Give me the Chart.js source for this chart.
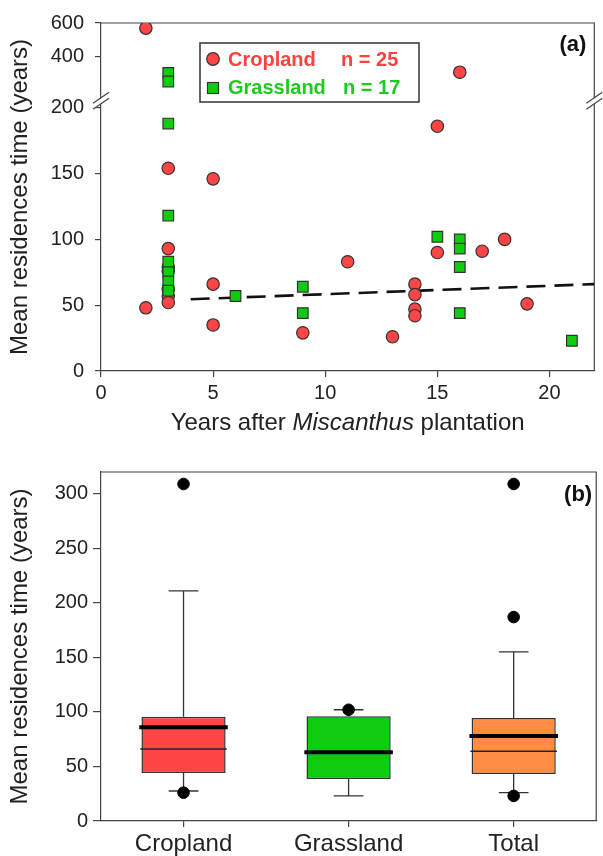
<!DOCTYPE html>
<html>
<head>
<meta charset="utf-8">
<script src="https://cdn.jsdelivr.net/npm/chart.js@4.4.0/dist/chart.umd.min.js"></script>
<style>
  html, body { margin: 0; padding: 0; background: #fff; }
  #wrap { position: relative; width: 603px; height: 856px; overflow: hidden; }
  canvas { position: absolute; left: 0; }
  #cA { top: 0; }
  #cB { top: 440px; }
</style>
</head>
<body>
<div id="wrap">
  <canvas id="cA" width="603" height="440"></canvas>
  <canvas id="cB" width="603" height="416"></canvas>
</div>
<script>
// --- panel (a): MRT against years after plantation ---
const cropYears  = [2, 2, 3, 3, 3, 3, 3, 3, 3, 5, 5, 5, 9, 11, 13, 14, 14, 14, 14, 15, 15, 16, 17, 18, 19];
const cropMrt    = [570, 48, 154, 93, 79, 76, 62, 57, 52, 146, 66, 35, 29, 83, 26, 66, 58, 47, 42, 186, 90, 310, 91, 100, 51];
const grassYears = [3, 3, 3, 3, 3, 3, 3, 3, 6, 9, 9, 15, 16, 16, 16, 16, 21];
const grassMrt   = [306, 255, 188, 118, 83, 75, 68, 61, 57, 64, 44, 102, 100, 93, 79, 44, 23];
const trendYears = [4, 22];
const trendMrt   = [54.5, 66];
const xTicks     = [0, 5, 10, 15, 20];
const yLowTicks  = [0, 50, 100, 150, 200];
const yHighTicks = [400, 600];

// --- panel (b): box plots ---
const groups      = ["Cropland", "Grassland", "Total"];
const boxQ1       = [44, 38.5, 43];
const boxQ3       = [95.5, 96, 94.5];
const boxMedian   = [66, 63, 64];
const boxMean     = [86, 63, 78];
const whiskerLow  = [27.5, 23, 26];
const whiskerHigh = [211, 102, 155];
const outlierGroup = ["Cropland", "Cropland", "Grassland", "Total", "Total", "Total"];
const outlierMrt   = [309, 26, 102, 309, 187, 23];
const boxTicks     = [0, 50, 100, 150, 200, 250, 300];

const FONT = '"Liberation Sans", Arial, Helvetica, sans-serif';
const RED = "#FF4545", GREEN = "#10CC10", ORANGE = "#FF8C40";
Chart.defaults.font.family = FONT;
Chart.defaults.color = "#222";

const lowMax = 205, highMin = 139;   // axis break between the two stacked scales

function split(xs, ys, upper) {
  const out = [];
  xs.forEach((x, i) => { if ((ys[i] > lowMax) === upper) out.push({x: x, y: ys[i]}); });
  return out;
}

function yTitle(ctx, text, x, y) {
  ctx.save();
  ctx.translate(x, y);
  ctx.rotate(-Math.PI / 2);
  ctx.font = "24px " + FONT;
  ctx.fillStyle = "#222";
  ctx.textAlign = "center";
  ctx.textBaseline = "middle";
  ctx.fillText(text, 0, 0);
  ctx.restore();
}

function frame(ctx, a) {
  ctx.save();
  ctx.strokeStyle = "#444";
  ctx.lineWidth = 1.2;
  ctx.beginPath();
  ctx.moveTo(a.left, a.top);
  ctx.lineTo(a.right, a.top);
  ctx.lineTo(a.right, a.bottom);
  ctx.stroke();
  ctx.restore();
}

function breakMark(ctx, x, y) {
  ctx.save();
  ctx.fillStyle = "#fff";
  ctx.beginPath();
  ctx.moveTo(x - 7, y + 2); ctx.lineTo(x + 7, y - 8);
  ctx.lineTo(x + 7, y - 2); ctx.lineTo(x - 7, y + 8);
  ctx.closePath(); ctx.fill();
  ctx.strokeStyle = "#444"; ctx.lineWidth = 1.2;
  ctx.beginPath();
  ctx.moveTo(x - 8, y + 2); ctx.lineTo(x + 8, y - 9);
  ctx.moveTo(x - 8, y + 8); ctx.lineTo(x + 8, y - 3);
  ctx.stroke();
  ctx.restore();
}

const panelA = {
  id: "panelA",
  beforeDatasetsDraw(chart) { frame(chart.ctx, chart.chartArea); },
  afterDraw(chart) {
    const ctx = chart.ctx, a = chart.chartArea;
    const yb = chart.scales.y.top;
    breakMark(ctx, a.left, yb);
    breakMark(ctx, a.right, yb);

    // legend box
    const lx = a.left + 99, ly = a.top + 20;
    ctx.save();
    ctx.fillStyle = "#fff"; ctx.strokeStyle = "#333"; ctx.lineWidth = 1.5;
    ctx.fillRect(lx, ly, 219, 59); ctx.strokeRect(lx, ly, 219, 59);
    ctx.lineWidth = 1.2;
    ctx.fillStyle = RED;
    ctx.beginPath(); ctx.arc(lx + 13, ly + 16, 6.3, 0, Math.PI * 2); ctx.fill(); ctx.stroke();
    ctx.fillStyle = GREEN;
    ctx.fillRect(lx + 7.5, ly + 39.5, 11, 11); ctx.strokeRect(lx + 7.5, ly + 39.5, 11, 11);
    ctx.font = "bold 20px " + FONT; ctx.textBaseline = "middle";
    ctx.fillStyle = "#FF4040";
    ctx.fillText("Cropland", lx + 28, ly + 17); ctx.fillText("n = 25", lx + 141, ly + 17);
    ctx.fillStyle = "#1ECC1E";
    ctx.fillText("Grassland", lx + 28, ly + 45); ctx.fillText("n = 17", lx + 143, ly + 45);

    // panel letter
    ctx.fillStyle = "#111"; ctx.font = "bold 22px " + FONT; ctx.textAlign = "right";
    ctx.fillText("(a)", a.right - 8, a.top + 22);
    ctx.restore();

    yTitle(ctx, "Mean residences time (years)", 20, (a.top + a.bottom) / 2);

    // x title with italic genus name
    const parts = [["Years after ", ""], ["Miscanthus", "italic "], [" plantation", ""]];
    ctx.save();
    ctx.fillStyle = "#222"; ctx.textBaseline = "middle";
    let total = 0;
    parts.forEach(p => { ctx.font = p[1] + "24px " + FONT; total += ctx.measureText(p[0]).width; });
    let x = (a.left + a.right) / 2 - total / 2;
    parts.forEach(p => {
      ctx.font = p[1] + "24px " + FONT;
      ctx.fillText(p[0], x, 423);
      x += ctx.measureText(p[0]).width;
    });
    ctx.restore();
  }
};

const pt = { borderColor: "#333", borderWidth: 1.2 };

new Chart(document.getElementById("cA"), {
  type: "scatter",
  data: {
    datasets: [
      Object.assign({ data: split(grassYears, grassMrt, false), yAxisID: "y", pointStyle: "rect", pointRadius: 7.5, backgroundColor: GREEN }, pt),
      Object.assign({ data: split(grassYears, grassMrt, true), yAxisID: "y2", pointStyle: "rect", pointRadius: 7.5, backgroundColor: GREEN }, pt),
      Object.assign({ data: split(cropYears, cropMrt, false), yAxisID: "y", pointStyle: "circle", pointRadius: 6.2, backgroundColor: RED }, pt),
      Object.assign({ data: split(cropYears, cropMrt, true), yAxisID: "y2", pointStyle: "circle", pointRadius: 6.2, backgroundColor: RED }, pt),
      {
        type: "line",
        data: trendYears.map((x, i) => ({x: x, y: trendMrt[i]})),
        yAxisID: "y",
        borderColor: "#111", borderWidth: 2.6, borderDash: [19, 9],
        pointRadius: 0, fill: false
      }
    ]
  },
  options: {
    responsive: false, animation: false, events: [], devicePixelRatio: 1,
    layout: { padding: { left: 0, top: 22, right: 2, bottom: 0 } },
    plugins: { legend: { display: false }, tooltip: { enabled: false } },
    scales: {
      x: {
        type: "linear", min: 0, max: 22,
        afterBuildTicks: s => { s.ticks = xTicks.map(v => ({value: v})); },
        afterFit: s => { s.height = 69; },
        grid: { drawOnChartArea: false, tickLength: 6, color: "#444", lineWidth: 1.2 },
        border: { color: "#444", width: 1.2 },
        ticks: { font: { size: 20 }, color: "#222", padding: 4 }
      },
      y: {
        type: "linear", position: "left", stack: "mrt", stackWeight: 270.6,
        min: 0, max: lowMax,
        afterBuildTicks: s => { s.ticks = yLowTicks.map(v => ({value: v})); },
        afterFit: s => { s.width = 101; },
        grid: { drawOnChartArea: false, tickLength: 6, color: "#444", lineWidth: 1.2 },
        border: { color: "#444", width: 1.2 },
        ticks: { font: { size: 20 }, color: "#222", padding: 11 }
      },
      y2: {
        type: "linear", position: "left", stack: "mrt", stackWeight: 78.4,
        min: highMin, max: 600,
        afterBuildTicks: s => { s.ticks = yHighTicks.map(v => ({value: v})); },
        afterFit: s => { s.width = 101; },
        grid: { drawOnChartArea: false, tickLength: 6, color: "#444", lineWidth: 1.2 },
        border: { color: "#444", width: 1.2 },
        ticks: { font: { size: 20 }, color: "#222", padding: 11 }
      }
    }
  },
  plugins: [panelA]
});

// --- panel (b) ---
const panelB = {
  id: "panelB",
  beforeDatasetsDraw(chart) {
    const ctx = chart.ctx, x = chart.scales.x, y = chart.scales.y;
    frame(ctx, chart.chartArea);
    ctx.save();
    ctx.strokeStyle = "#333"; ctx.lineWidth = 1.3;
    groups.forEach((g, i) => {
      const xp = x.getPixelForValue(i);
      const cl = x.getPixelForValue(i - 0.09), cr = x.getPixelForValue(i + 0.09);
      ctx.beginPath();
      ctx.moveTo(xp, y.getPixelForValue(boxQ3[i])); ctx.lineTo(xp, y.getPixelForValue(whiskerHigh[i]));
      ctx.moveTo(xp, y.getPixelForValue(boxQ1[i])); ctx.lineTo(xp, y.getPixelForValue(whiskerLow[i]));
      ctx.moveTo(cl, y.getPixelForValue(whiskerHigh[i])); ctx.lineTo(cr, y.getPixelForValue(whiskerHigh[i]));
      ctx.moveTo(cl, y.getPixelForValue(whiskerLow[i])); ctx.lineTo(cr, y.getPixelForValue(whiskerLow[i]));
      ctx.stroke();
    });
    ctx.restore();
  },
  afterDatasetDraw(chart, args) {
    if (chart.data.datasets[args.index].type !== "bar") return;
    const ctx = chart.ctx, x = chart.scales.x, y = chart.scales.y;
    ctx.save();
    groups.forEach((g, i) => {
      const l = x.getPixelForValue(i - 0.262), r = x.getPixelForValue(i + 0.262);
      ctx.strokeStyle = "#222"; ctx.lineWidth = 1.5;
      ctx.beginPath();
      ctx.moveTo(l, y.getPixelForValue(boxMedian[i])); ctx.lineTo(r, y.getPixelForValue(boxMedian[i]));
      ctx.stroke();
      ctx.strokeStyle = "#000"; ctx.lineWidth = 4;
      ctx.beginPath();
      ctx.moveTo(l - 1, y.getPixelForValue(boxMean[i])); ctx.lineTo(r + 1, y.getPixelForValue(boxMean[i]));
      ctx.stroke();
    });
    ctx.restore();
  },
  afterDraw(chart) {
    const ctx = chart.ctx, a = chart.chartArea;
    yTitle(ctx, "Mean residences time (years)", 20, (a.top + a.bottom) / 2);
    ctx.save();
    ctx.fillStyle = "#111"; ctx.font = "bold 22px " + FONT;
    ctx.textAlign = "right"; ctx.textBaseline = "middle";
    ctx.fillText("(b)", a.right - 4, a.top + 23);
    ctx.restore();
  }
};

new Chart(document.getElementById("cB"), {
  type: "bar",
  data: {
    labels: groups,
    datasets: [
      {
        type: "scatter",
        data: outlierGroup.map((g, i) => ({x: g, y: outlierMrt[i]})),
        pointRadius: 5.8, backgroundColor: "#000", borderColor: "#000", order: 0
      },
      {
        type: "bar",
        data: groups.map((g, i) => [boxQ1[i], boxQ3[i]]),
        backgroundColor: [RED, GREEN, ORANGE],
        borderColor: "#333", borderWidth: 1.5, borderSkipped: false,
        barPercentage: 0.51, categoryPercentage: 1, order: 1
      }
    ]
  },
  options: {
    responsive: false, animation: false, events: [], devicePixelRatio: 1,
    layout: { padding: { left: 0, top: 32, right: 5, bottom: 0 } },
    plugins: { legend: { display: false }, tooltip: { enabled: false } },
    scales: {
      x: {
        type: "category", offset: true,
        afterFit: s => { s.height = 35; },
        grid: { offset: false, drawOnChartArea: false, tickLength: 6, color: "#444", lineWidth: 1.2 },
        border: { color: "#444", width: 1.2 },
        ticks: { font: { size: 24 }, color: "#222", padding: 3 }
      },
      y: {
        type: "linear", min: 0, max: 320,
        afterBuildTicks: s => { s.ticks = boxTicks.map(v => ({value: v})); },
        afterFit: s => { s.width = 101; },
        grid: { drawOnChartArea: false, tickLength: 8, color: "#444", lineWidth: 1.2 },
        border: { color: "#444", width: 1.2 },
        ticks: { font: { size: 20 }, color: "#222", padding: 5 }
      }
    }
  },
  plugins: [panelB]
});
</script>
</body>
</html>
